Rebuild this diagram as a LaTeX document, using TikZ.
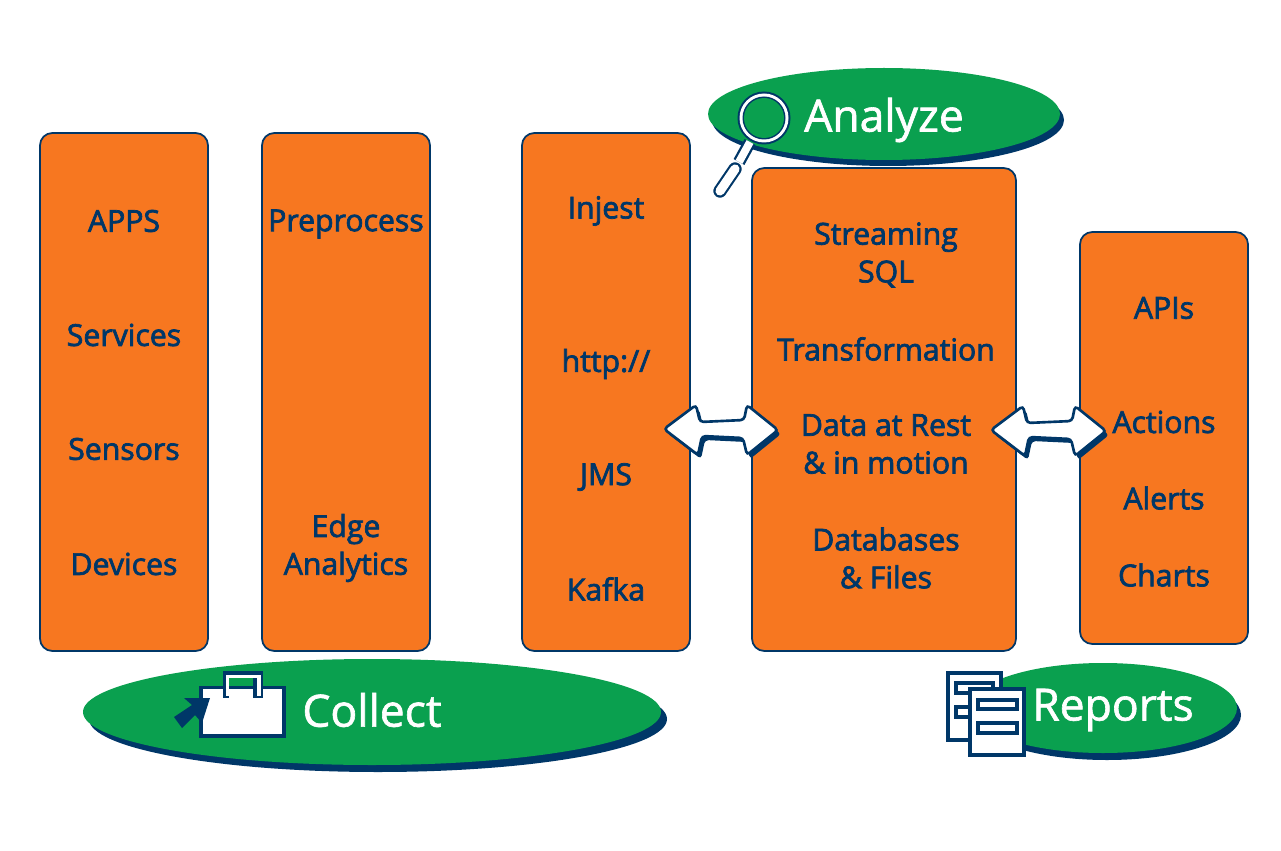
\documentclass[tikz,border=0pt]{standalone}
\usepackage{fontspec}
\setmainfont{Open Sans}
\newfontfamily\boxfont[FakeBold=2.4]{Open Sans}
\newfontfamily\titlefont[FakeBold=1.4]{Open Sans}
\usepackage{xcolor}
\definecolor{boxorange}{HTML}{F77720}
\definecolor{navy}{HTML}{003768}
\definecolor{ovalgreen}{HTML}{0AA04F}

\tikzset{
  column/.style={draw=navy, line width=1pt, fill=boxorange, rounded corners=7pt},
  item/.style={text=navy, font=\boxfont\fontsize{17.2}{21.5}\selectfont, align=center},
  oval/.style={fill=ovalgreen},
  ovalshadow/.style={fill=navy},
  title/.style={text=white, font=\titlefont\fontsize{25.3}{30}\selectfont},
  paper/.style={draw=navy, line width=2.2pt, fill=white},
  slot/.style={draw=navy, line width=1.8pt, fill=white},
}

\begin{document}
\begin{tikzpicture}[x=0.02cm, y=-0.02cm]

\useasboundingbox (0,0) rectangle (1281,851);
\fill[white] (0,0) rectangle (1281,851);

% Columns
\draw[column] (40,133) rectangle (208,651);
\draw[column] (262,133) rectangle (430,651);
\draw[column] (522,133) rectangle (690,651);
\draw[column] (752,168) rectangle (1016,651);
\draw[column] (1080,232) rectangle (1248,644);

% Ovals
\fill[ovalshadow] (888,120) ellipse (176 and 46);
\fill[oval] (884,114) ellipse (176 and 46);
\fill[ovalshadow] (378,719) ellipse (289 and 53);
\fill[oval] (372,712) ellipse (289 and 53);
\fill[ovalshadow] (1107,715) ellipse (134 and 45);
\fill[oval] (1103,708) ellipse (134 and 45);

% Column 1
\node[item] (apps) at (124,221) {APPS};
\node[item] (services) at (124,335) {Services};
\node[item] (sensors) at (124,449) {Sensors};
\node[item] (devices) at (124,564) {Devices};

% Column 2
\node[item] (preprocess) at (346,224) {Preprocess};
\node[item] (edge) at (346,548) {Edge\\Analytics};

% Column 3
\node[item] (injest) at (606,211) {Injest};
\node[item] (http) at (606,364) {http://};
\node[item] (jms) at (606,477) {JMS};
\node[item] (kafka) at (606,589) {Kafka};

% Column 4
\node[item] (streaming) at (886,255) {Streaming\\SQL};
\node[item] (transformation) at (886,349) {Transformation};
\node[item] (rest) at (886,444) {Data at Rest\\\& in motion};
\node[item] (databases) at (886,558) {Databases\\\& Files};

% Column 5
\node[item] (apis) at (1164,308) {APIs};
\node[item] (actions) at (1164,422) {Actions};
\node[item] (alerts) at (1164,498) {Alerts};
\node[item] (charts) at (1164,575) {Charts};

% Double arrows
\foreach \xs/\ys/\wd in {0/0/0, 327/1/1}{
  \begin{scope}[shift={(\xs,\ys)}]
    \fill[navy, rounded corners=2pt, shift={(3,4)}]
      (664,429) -- (696,405) -- (700,422) -- (744+\wd,420) -- (747+\wd,405) -- (778+\wd,430)
      -- (747+\wd,455) -- (743+\wd,438) -- (702,436) -- (698,455) -- cycle;
    \draw[navy, line width=1.5pt, fill=white, rounded corners=2pt]
      (664,429) -- (696,405) -- (700,422) -- (744+\wd,420) -- (747+\wd,405) -- (778+\wd,430)
      -- (747+\wd,455) -- (743+\wd,438) -- (702,436) -- (698,455) -- cycle;
  \end{scope}
}

% Oval titles
\node[title] (analyze) at (884,120) {Analyze};
\node[title] (collect) at (372,710) {Collect};
\node[title] (reports) at (1113,710) {Reports};

% Magnifier
\draw[navy, line width=7pt] (750,142) -- (739,162);
\draw[white, line width=4.4pt] (750,142) -- (739,162);
\draw[navy, line width=7.6pt, line cap=round] (735,169) -- (720,191);
\draw[white, line width=5.2pt, line cap=round] (735,169) -- (720,191);
\fill[navy] (764,118) circle (26.5);
\fill[white] (764,118) circle (24.5);
\fill[navy] (764,118) circle (21.5);
\fill[ovalgreen] (764,118) circle (20);

% Case
\draw[navy, line width=1.9pt, fill=white] (201,687.5) rectangle (284,736);
\fill[navy] (223,671) rectangle (263,698);
\fill[white] (226,675) rectangle (260.7,696);
\fill[navy] (228.7,677.7) rectangle (257,698);
\fill[ovalgreen] (229.3,678) rectangle (253.3,686);
\fill[white] (229.3,689) rectangle (253.3,698);
\fill[navy] (210,698) -- (184,698) -- (192,705) -- (174,717) -- (182,728) -- (195,715) -- (202,723) -- cycle;

% Sheets
\draw[paper] (948,673) rectangle (1001,740);
\draw[slot] (956,683) rectangle (993,693);
\draw[slot] (956,707) rectangle (993,717);
\draw[paper] (970,689) rectangle (1024,755);
\draw[slot] (978,700) rectangle (1017,709);
\draw[slot] (978,723) rectangle (1017,733);

\end{tikzpicture}
\end{document}
